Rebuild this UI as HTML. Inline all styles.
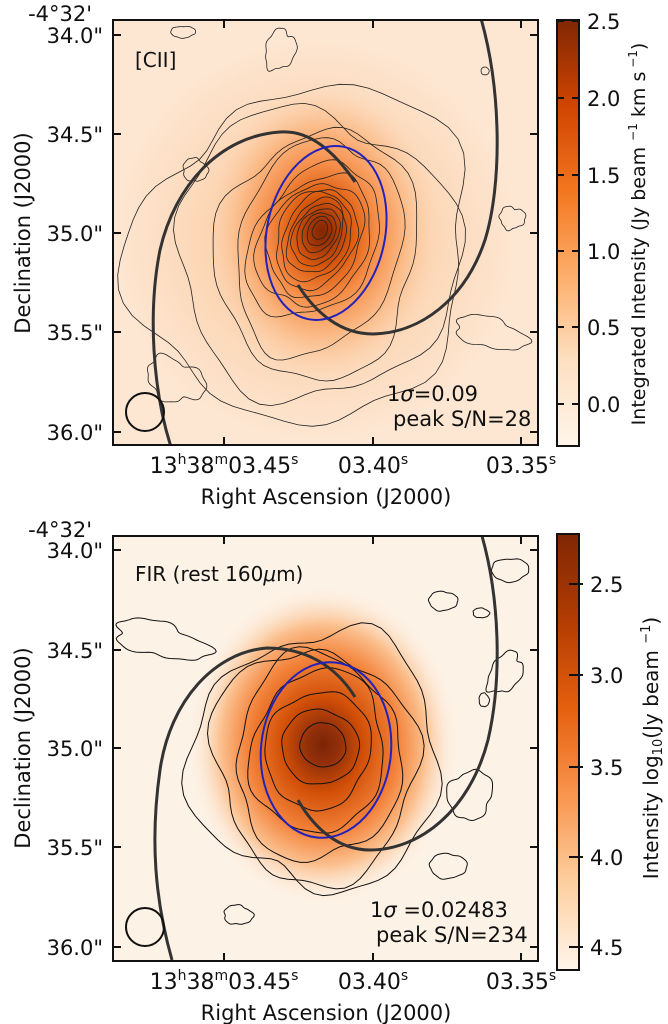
<!DOCTYPE html>
<html><head><meta charset="utf-8"><style>
html,body{margin:0;padding:0;background:#fff;width:668px;height:1024px;overflow:hidden}
svg{display:block}
text{font-family:"DejaVu Sans","Liberation Sans",sans-serif;fill:#111}
</style></head><body>
<svg id="s" width="668" height="1024" viewBox="0 0 668 1024" xmlns="http://www.w3.org/2000/svg">
<defs>
<linearGradient id="cb1" x1="0" y1="1" x2="0" y2="0">
<stop offset="0" stop-color="#fff5eb"/><stop offset="0.2" stop-color="#fde0c1"/><stop offset="0.4" stop-color="#fdae6b"/><stop offset="0.6" stop-color="#f3761f"/><stop offset="0.8" stop-color="#cf4401"/><stop offset="1" stop-color="#7f2704"/>
</linearGradient>
<radialGradient id="g1" cx="322" cy="232" r="150" gradientUnits="userSpaceOnUse" gradientTransform="translate(322 232) scale(0.8 1) translate(-322 -232)">
<stop offset="0" stop-color="#7f2704"/><stop offset="0.08" stop-color="#9a3104"/><stop offset="0.25" stop-color="#dc5c0e"/><stop offset="0.45" stop-color="#f58d48"/><stop offset="0.7" stop-color="#fbbb88"/><stop offset="1" stop-color="#fbd9ba" stop-opacity="0"/>
</radialGradient>
<radialGradient id="h1" cx="315" cy="240" r="200" gradientUnits="userSpaceOnUse">
<stop offset="0" stop-color="#fbc290"/><stop offset="0.6" stop-color="#fcd8b8"/><stop offset="1" stop-color="#fde6d2"/>
</radialGradient>
<radialGradient id="g2" cx="323" cy="745" r="160" gradientUnits="userSpaceOnUse" gradientTransform="translate(323 745) scale(0.85 1) translate(-323 -745)">
<stop offset="0" stop-color="#7a2505"/><stop offset="0.12" stop-color="#93300a"/><stop offset="0.3" stop-color="#d24f07"/><stop offset="0.55" stop-color="#f3823a"/><stop offset="0.75" stop-color="#fbbf8d"/><stop offset="1" stop-color="#fdf2e6" stop-opacity="0"/>
</radialGradient>
<clipPath id="c1"><rect x="113" y="20" width="425" height="425"/></clipPath>
<clipPath id="c2"><rect x="113" y="536" width="425" height="425"/></clipPath>
</defs>

<g clip-path="url(#c1)">
<rect x="113" y="20" width="425" height="425" fill="url(#h1)"/>
<ellipse cx="322" cy="240" rx="130" ry="160" fill="url(#g1)"/>
<g id="ct1" fill="none" stroke="#222" stroke-width="0.8"></g>
<path d="M355,182 C330,145 305,130 280,132 C220,136 175,185 160,250 C148,310 152,390 172,450" fill="none" stroke="#333" stroke-width="3"/>
<path d="M298,285 C315,312 340,334 373,334 C420,333 465,300 485,240 C502,185 502,90 480,15" fill="none" stroke="#333" stroke-width="3"/>
<ellipse cx="326" cy="233" rx="59" ry="88" transform="rotate(12 326 233)" fill="none" stroke="#2222bb" stroke-width="2"/>
<circle cx="145" cy="412" r="19" fill="none" stroke="#111" stroke-width="2"/>
</g>
<rect x="113" y="20" width="425" height="425" fill="none" stroke="#111" stroke-width="2"/>
<g stroke="#111" stroke-width="2">
<path d="M113,35h8M113,134h8M113,233h8M113,332h8M113,432h8M538,35h-8M538,134h-8M538,233h-8M538,332h-8M538,432h-8"/>
<path d="M224,445v-8M373,445v-8M521,445v-8M224,20v8M373,20v8M521,20v8"/>
</g>
<text x="135" y="67" font-size="20">[CII]</text>
<text x="387" y="401" font-size="21">1<tspan font-style="italic">σ</tspan>=0.09</text>
<text x="393" y="426" font-size="21">peak S/N=28</text>
<g font-size="21" text-anchor="end">
<text x="92" y="21">-4°32'</text>
<text x="103" y="43">34.0"</text><text x="103" y="142">34.5"</text><text x="103" y="241">35.0"</text><text x="103" y="340">35.5"</text><text x="103" y="440">36.0"</text>
</g>
<text transform="translate(30 233) rotate(-90)" font-size="21" text-anchor="middle">Declination (J2000)</text>
<g font-size="22" text-anchor="middle">
<text x="224" y="473">13<tspan font-size="14" dy="-9">h</tspan><tspan dy="9">38</tspan><tspan font-size="14" dy="-9">m</tspan><tspan dy="9">03.45</tspan><tspan font-size="14" dy="-9">s</tspan></text>
<text x="373" y="473">03.40<tspan font-size="14" dy="-9">s</tspan></text>
<text x="521" y="473">03.35<tspan font-size="14" dy="-9">s</tspan></text>
<text x="326" y="504" font-size="21">Right Ascension (J2000)</text>
</g>
<rect x="557" y="20" width="22" height="426" fill="url(#cb1)" stroke="#111" stroke-width="2"/>
<g stroke="#111" stroke-width="2"><path d="M557,21h7M557,98h7M557,175h7M557,251h7M557,327h7M557,404h7M579,21h-7M579,98h-7M579,175h-7M579,251h-7M579,327h-7M579,404h-7"/></g>
<g font-size="21"><text x="587" y="29">2.5</text><text x="587" y="106">2.0</text><text x="587" y="183">1.5</text><text x="587" y="259">1.0</text><text x="587" y="335">0.5</text><text x="587" y="412">0.0</text></g>
<text transform="translate(645 234) rotate(-90)" font-size="19" text-anchor="middle">Integrated Intensity (Jy beam <tspan font-size="12" dy="-8">−1</tspan><tspan dy="8"> km s</tspan><tspan font-size="12" dy="-8"> −1</tspan><tspan dy="8">)</tspan></text>

<g clip-path="url(#c2)">
<rect x="113" y="536" width="425" height="425" fill="#fdf2e6"/>
<ellipse cx="323" cy="750" rx="140" ry="165" fill="url(#g2)"/>
<g id="ct2" fill="none" stroke="#111" stroke-width="1"></g>
<path d="M355,697 C335,665 305,648 267,648 C215,652 170,700 160,770 C150,840 155,900 172,960" fill="none" stroke="#333" stroke-width="3"/>
<path d="M298,800 C315,830 340,850 370,850 C420,850 470,810 488,740 C502,680 500,600 482,536" fill="none" stroke="#333" stroke-width="3"/>
<ellipse cx="326" cy="750" rx="65" ry="88" transform="rotate(6 326 750)" fill="none" stroke="#2222bb" stroke-width="2"/>
<circle cx="145" cy="927" r="19" fill="none" stroke="#111" stroke-width="2"/>
</g>
<rect x="113" y="536" width="425" height="425" fill="none" stroke="#111" stroke-width="2"/>
<g stroke="#111" stroke-width="2">
<path d="M113,550h8M113,650h8M113,748h8M113,847h8M113,947h8M538,550h-8M538,650h-8M538,748h-8M538,847h-8M538,947h-8"/>
<path d="M224,961v-8M373,961v-8M521,961v-8M224,536v8M373,536v8M521,536v8"/>
</g>
<text x="135" y="581" font-size="20">FIR (rest 160<tspan font-style="italic">μ</tspan>m)</text>
<text x="370" y="917" font-size="21">1<tspan font-style="italic">σ</tspan> =0.02483</text>
<text x="376" y="942" font-size="21">peak S/N=234</text>
<g font-size="21" text-anchor="end">
<text x="92" y="537">-4°32'</text>
<text x="103" y="558">34.0"</text><text x="103" y="658">34.5"</text><text x="103" y="756">35.0"</text><text x="103" y="855">35.5"</text><text x="103" y="955">36.0"</text>
</g>
<text transform="translate(30 748) rotate(-90)" font-size="21" text-anchor="middle">Declination (J2000)</text>
<g font-size="22" text-anchor="middle">
<text x="224" y="989">13<tspan font-size="14" dy="-9">h</tspan><tspan dy="9">38</tspan><tspan font-size="14" dy="-9">m</tspan><tspan dy="9">03.45</tspan><tspan font-size="14" dy="-9">s</tspan></text>
<text x="373" y="989">03.40<tspan font-size="14" dy="-9">s</tspan></text>
<text x="521" y="989">03.35<tspan font-size="14" dy="-9">s</tspan></text>
<text x="326" y="1020" font-size="21">Right Ascension (J2000)</text>
</g>
<linearGradient id="cb2" x1="0" y1="0" x2="0" y2="1">
<stop offset="0" stop-color="#7f2704"/><stop offset="0.2" stop-color="#b33c03"/><stop offset="0.4" stop-color="#e5600e"/><stop offset="0.6" stop-color="#f9954f"/><stop offset="0.8" stop-color="#fdcfa0"/><stop offset="1" stop-color="#fff5eb"/>
</linearGradient>
<rect x="557" y="534" width="22" height="436" fill="url(#cb2)" stroke="#111" stroke-width="2"/>
<g stroke="#111" stroke-width="2"><path d="M569,584h14M569,675h14M569,767h14M569,857h14M569,947h14"/></g>
<g font-size="21"><text x="590" y="592">2.5</text><text x="590" y="683">3.0</text><text x="590" y="775">3.5</text><text x="590" y="865">4.0</text><text x="590" y="955">4.5</text></g>
<text transform="translate(658 748) rotate(-90)" font-size="20" text-anchor="middle">Intensity log<tspan font-size="13" dy="4">10</tspan><tspan dy="-4">(Jy beam </tspan><tspan font-size="13" dy="-8">−1</tspan><tspan dy="8">)</tspan></text>
</svg>
<script>
function blob(cx,cy,rx,ry,amp,seed,rot,sk){
  var d="",n=80;
  for(var i=0;i<=n;i++){
    var t=i/n*2*Math.PI;
    var w=1+amp*(Math.sin(3*t+seed)*0.5+Math.sin(5*t+seed*2.3)*0.3+Math.sin(9*t+seed*1.7)*0.2+Math.sin(2*t+seed*0.7)*0.4);
    var x=rx*w*Math.cos(t), y=ry*w*Math.sin(t);
    var c=Math.cos(rot),s=Math.sin(rot);
    var X=cx+x*c-y*s+(sk||0)*y, Y=cy+x*s+y*c;
    d+=(i?"L":"M")+X.toFixed(1)+","+Y.toFixed(1);
  }
  return d+"Z";
}
function add(id,d,w){var g=document.getElementById(id);var p=document.createElementNS("http://www.w3.org/2000/svg","path");p.setAttribute("d",d);if(w)p.setAttribute("stroke-width",w);g.appendChild(p);}
var r=[7,11,15,19,23,27,32,37,43,50,58];
for(var i=0;i<r.length;i++){add("ct1",blob(320-i*0.6,230+i*1.2,r[i]*1.05,r[i]*1.35,0.04+i*0.006,i*1.3,0.15,-0.15));}
add("ct1",blob(318,248,78,112,0.09,2.1,0.1,-0.1));
add("ct1",blob(318,255,100,125,0.11,4.2,0.0,0));
add("ct1",blob(315,255,135,150,0.13,1.7,0.0,0));
add("ct1",blob(305,255,170,165,0.14,5.3,0.2,0));
add("ct1",blob(195,170,12,12,0.15,1,0));
add("ct1",blob(280,50,14,22,0.2,2,0.3));
add("ct1",blob(183,32,12,6,0.1,3,0));
add("ct1",blob(485,71,4,4,0.05,1,0));
add("ct1",blob(512,218,12,12,0.2,2,0));
add("ct1",blob(175,380,28,22,0.25,3,0.5));
add("ct1",blob(490,333,35,16,0.2,1,0.2));
var r2=[[323,745,23,22],[320,747,38,38],[318,750,52,60],[318,752,68,80],[318,758,85,100],[315,765,100,118],[318,760,118,135]];
for(var j=0;j<r2.length;j++){var q=r2[j];add("ct2",blob(q[0],q[1],q[2],q[3],0.03+j*0.02,j*1.9,0.1),1);}
add("ct2",blob(160,640,45,18,0.25,1,0.2),1);
add("ct2",blob(443,601,14,10,0.1,2,0),1);
add("ct2",blob(510,570,18,12,0.1,3,0),1);
add("ct2",blob(481,613,8,5,0.1,1,0),1);
add("ct2",blob(505,673,14,24,0.2,2,0.6),1);
add("ct2",blob(484,700,5,7,0.1,1,0),1);
add("ct2",blob(470,795,22,25,0.15,4,0),1);
add("ct2",blob(448,866,18,13,0.1,2,0),1);
add("ct2",blob(238,915,14,10,0.15,1,0),1);
</script>
</body></html>
